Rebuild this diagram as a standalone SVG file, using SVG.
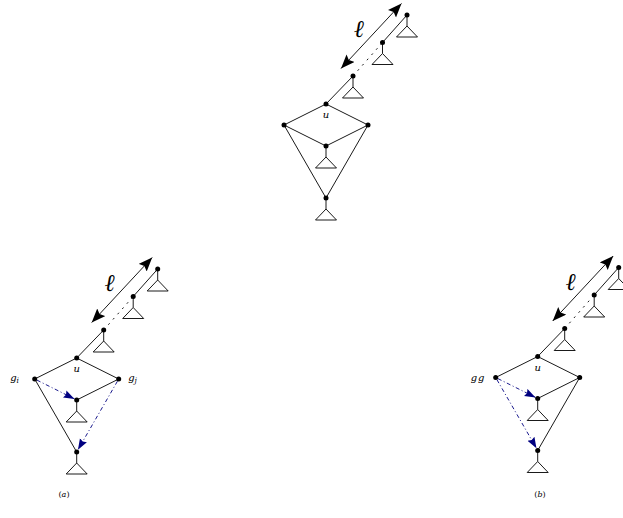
<svg xmlns="http://www.w3.org/2000/svg" width="623" height="518" viewBox="0 0 623 518">
<style>
.e{stroke:#000;stroke-width:0.9;fill:none}
.dot{stroke:#000;stroke-width:0.9;fill:none;stroke-dasharray:2 5}
.len{stroke:#000;stroke-width:0.9;fill:none;marker-start:url(#bh);marker-end:url(#bh)}
.blue{stroke:#000080;stroke-width:0.9;fill:none;stroke-dasharray:4 2.5 1 2.5;marker-end:url(#uh)}
.n{fill:#000}
.tri{fill:#fff;stroke:#000;stroke-width:0.9}
.t{font-family:"DejaVu Serif","Liberation Serif",serif;font-style:italic;fill:#000}
.ell{font-family:"Liberation Serif","DejaVu Serif",serif;font-style:italic;font-size:24px;fill:#000;text-anchor:middle}
.cap{font-family:"DejaVu Serif","Liberation Serif",serif;font-size:8px;fill:#000;text-anchor:middle}
</style>
<defs>
<marker id="bh" markerUnits="userSpaceOnUse" markerWidth="15" markerHeight="12" refX="14" refY="5.5" orient="auto-start-reverse">
<path d="M0,0 L14,5.5 L0,11 L2.5,5.5 z" fill="#000"/>
</marker>
<marker id="uh" markerUnits="userSpaceOnUse" markerWidth="12" markerHeight="9" refX="11" refY="4" orient="auto">
<path d="M0,0 L11,4 L0,8 L1.5,4 z" fill="#000080"/>
</marker>
<g id="tr"><line x1="0" y1="0" x2="0" y2="11" class="e"/><path d="M0,11 L-10.5,22 L10.5,22 z" class="tri"/><circle r="2.5" class="n"/></g>
<g id="pt"><circle r="2.5" class="n"/></g>
</defs>

<!-- Top diagram -->
<g id="top">
<g id="top-connectors">
<line x1="326" y1="104" x2="284" y2="125" class="e"/>
<line x1="326" y1="104" x2="368" y2="125" class="e"/>
<line x1="284" y1="125" x2="326" y2="146" class="e"/>
<line x1="368" y1="125" x2="326" y2="146" class="e"/>
<line x1="284" y1="125" x2="326" y2="198" class="e"/>
<line x1="368" y1="125" x2="326" y2="198" class="e"/>
<line x1="326" y1="104" x2="353" y2="76" class="e"/>
<line x1="353" y1="76" x2="382.5" y2="42.5" class="dot"/>
<line x1="382.5" y1="42.5" x2="407" y2="15" class="e"/>
<line x1="341" y1="68.5" x2="401.5" y2="3.5" class="len"/>
</g>
<g id="top-n1"><use href="#tr" x="407" y="15"/></g>
<g id="top-n2"><use href="#tr" x="382.5" y="42.5"/></g>
<g id="top-n3"><use href="#tr" x="353" y="76"/></g>
<g id="top-u"><use href="#pt" x="326" y="104"/><text x="326" y="118" class="t" font-size="10" text-anchor="middle">u</text></g>
<g id="top-l"><use href="#pt" x="284" y="125"/></g>
<g id="top-r"><use href="#pt" x="368" y="125"/></g>
<g id="top-m"><use href="#tr" x="326" y="146"/></g>
<g id="top-b"><use href="#tr" x="326" y="198"/></g>
<text x="359" y="37" class="ell">ℓ</text>
</g>

<!-- Diagram (a) -->
<g id="diag-a" transform="translate(-249.3,254)">
<g id="a-connectors">
<line x1="326" y1="104" x2="284" y2="125" class="e"/>
<line x1="326" y1="104" x2="368" y2="125" class="e"/>
<line x1="368" y1="125" x2="326" y2="146" class="e"/>
<line x1="284" y1="125" x2="326" y2="198" class="e"/>
<line x1="326" y1="104" x2="353" y2="76" class="e"/>
<line x1="353" y1="76" x2="382.5" y2="42.5" class="dot"/>
<line x1="382.5" y1="42.5" x2="407" y2="15" class="e"/>
<line x1="341" y1="68.5" x2="401.5" y2="3.5" class="len"/>
<line x1="286.2" y1="126.1" x2="323.8" y2="144.9" class="blue"/>
<line x1="366.75" y1="127.2" x2="327.25" y2="195.8" class="blue"/>
</g>
<g id="a-n1"><use href="#tr" x="407" y="15"/></g>
<g id="a-n2"><use href="#tr" x="382.5" y="42.5"/></g>
<g id="a-n3"><use href="#tr" x="353" y="76"/></g>
<g id="a-u"><use href="#pt" x="326" y="104"/><text x="326" y="118" class="t" font-size="10" text-anchor="middle">u</text></g>
<g id="a-gi"><use href="#pt" x="284" y="125"/><text x="259.5" y="127" class="t" font-size="10">g<tspan font-size="7.5" dy="1.5">i</tspan></text></g>
<g id="a-gj"><use href="#pt" x="368" y="125"/><text x="377.5" y="127" class="t" font-size="10">g<tspan font-size="7.5" dy="1.5">j</tspan></text></g>
<g id="a-m"><use href="#tr" x="326" y="146"/></g>
<g id="a-b"><use href="#tr" x="326" y="198"/></g>
<text x="359" y="37" class="ell">ℓ</text>
</g>
<text x="64" y="497" class="cap">(<tspan font-style="italic">a</tspan>)</text>

<!-- Diagram (b) -->
<g id="diag-b" transform="translate(211.7,252.5)">
<g id="b-connectors">
<line x1="326" y1="104" x2="284" y2="125" class="e"/>
<line x1="326" y1="104" x2="368" y2="125" class="e"/>
<line x1="368" y1="125" x2="326" y2="146" class="e"/>
<line x1="368" y1="125" x2="326" y2="198" class="e"/>
<line x1="326" y1="104" x2="353" y2="76" class="e"/>
<line x1="353" y1="76" x2="382.5" y2="42.5" class="dot"/>
<line x1="382.5" y1="42.5" x2="407" y2="15" class="e"/>
<line x1="341" y1="68.5" x2="401.5" y2="3.5" class="len"/>
<line x1="286.2" y1="126.1" x2="323.8" y2="144.9" class="blue"/>
<line x1="285.25" y1="127.2" x2="324.75" y2="195.8" class="blue"/>
</g>
<g id="b-n1"><use href="#tr" x="407" y="15"/></g>
<g id="b-n2"><use href="#tr" x="382.5" y="42.5"/></g>
<g id="b-n3"><use href="#tr" x="353" y="76"/></g>
<g id="b-u"><use href="#pt" x="326" y="104"/><text x="326" y="118" class="t" font-size="10" text-anchor="middle">u</text></g>
<g id="b-gg"><use href="#pt" x="284" y="125"/><text x="259" y="128" class="t" font-size="10">g<tspan dx="1">g</tspan></text></g>
<g id="b-r"><use href="#pt" x="368" y="125"/></g>
<g id="b-m"><use href="#tr" x="326" y="146"/></g>
<g id="b-b"><use href="#tr" x="326" y="198"/></g>
<text x="359" y="37" class="ell">ℓ</text>
</g>
<text x="540" y="497" class="cap">(<tspan font-style="italic">b</tspan>)</text>
</svg>
